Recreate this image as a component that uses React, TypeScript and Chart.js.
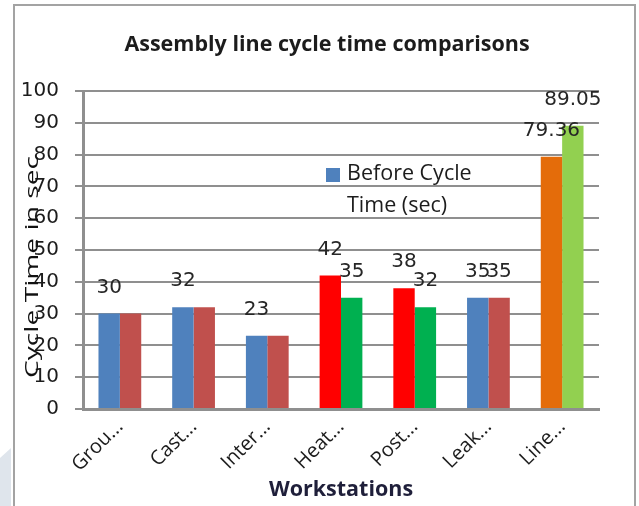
import { useEffect, useRef } from "react";
import { Chart, registerables } from "chart.js";

Chart.register(...registerables);

const chartTitle = "Assembly line cycle time comparisons";
const xTitle = "Workstations";
const yTitle = "Cycle Time in sec";
const legendLines = ["Before Cycle", "Time (sec)"];

const categories = ["Grou...", "Cast...", "Inter...", "Heat...", "Post...", "Leak...", "Line..."];
const beforeValues = [30, 32, 23, 42, 38, 35, 79.36];
const afterValues = [30, 32, 23, 35, 32, 35, 89.05];
const beforeLabels = ["30", "32", "23", "42", "38", "35", "79.36"];
const afterLabels = ["", "", "", "35", "32", "35", "89.05"];
const beforeColors = ["#4F81BD", "#4F81BD", "#4F81BD", "#FF0000", "#FF0000", "#4F81BD", "#E46C0A"];
const afterColors = ["#C0504D", "#C0504D", "#C0504D", "#00B050", "#00B050", "#C0504D", "#92D050"];
const yMin = 0;
const yMax = 100;
const yStep = 10;

const labelsByDataset = [beforeLabels, afterLabels];

const decorPlugin = {
  id: "decor",
  afterDraw(chart: any) {
    const ctx = chart.ctx as CanvasRenderingContext2D;
    const area = chart.chartArea;
    ctx.save();
    // frame
    ctx.strokeStyle = "#a3a3a3";
    ctx.lineWidth = 2;
    ctx.strokeRect(14, 5, 621, 530);
    // title
    ctx.fillStyle = "#1c1c1c";
    ctx.font = "bold 21.5px 'Open Sans'";
    ctx.textAlign = "center";
    ctx.textBaseline = "alphabetic";
    ctx.fillText(chartTitle, 327, 51);
    // data labels
    ctx.font = "20px 'DejaVu Sans'";
    ctx.fillStyle = "#262626";
    ctx.textBaseline = "middle";
    chart.data.datasets.forEach((_: any, di: number) => {
      const meta = chart.getDatasetMeta(di);
      meta.data.forEach((el: any, i: number) => {
        const t = labelsByDataset[di][i];
        if (!t) return;
        ctx.fillText(t, el.x, el.y - 26);
      });
    });
    // legend (single entry, wrapped)
    const lx = area.left + 243;
    const ly = area.top + 77;
    ctx.fillStyle = beforeColors[0];
    ctx.fillRect(lx, ly, 14, 14);
    ctx.fillStyle = "#1c1c1c";
    ctx.font = "21.5px 'Open Sans'";
    ctx.textAlign = "left";
    ctx.fillText(legendLines[0], lx + 21, ly + 6);
    ctx.fillText(legendLines[1], lx + 21, ly + 38);
    // y axis title (overlapping ticks, as in reference)
    ctx.save();
    ctx.translate(33, 267);
    ctx.rotate(-Math.PI / 2);
    ctx.font = "19px 'Open Sans'";
    const w = ctx.measureText(yTitle).width;
    ctx.scale(222 / w, 1);
    ctx.textAlign = "center";
    ctx.fillStyle = "#111";
    ctx.fillText(yTitle, 0, 0);
    ctx.restore();
    ctx.restore();
  },
};

export default function App() {
  const ref = useRef<HTMLCanvasElement>(null);
  useEffect(() => {
    if (!ref.current) return;
    const chart = new Chart(ref.current, {
      type: "bar",
      data: {
        labels: categories,
        datasets: [
          { label: "Before Cycle Time (sec)", data: beforeValues, backgroundColor: beforeColors },
          { label: "After Cycle Time (sec)", data: afterValues, backgroundColor: afterColors },
        ],
      },
      options: {
        responsive: false,
        animation: false,
        devicePixelRatio: 1,
        layout: { padding: { top: 91, right: 40, left: 0, bottom: 0 } },
        datasets: { bar: { categoryPercentage: 0.58, barPercentage: 1 } },
        plugins: { legend: { display: false }, title: { display: false }, tooltip: { enabled: false } },
        scales: {
          x: {
            afterFit: (s: any) => { s.height = 97; },
            grid: { display: false, drawTicks: false },
            border: { display: true, color: "#8f8f8f", width: 3 },
            ticks: {
              minRotation: 45,
              maxRotation: 45,
              autoSkip: false,
              padding: 6,
              color: "#1c1c1c",
              font: { family: "'Open Sans'", size: 20 },
            },
            title: {
              display: true,
              text: xTitle,
              color: "#1f1f3a",
              font: { family: "'Open Sans'", size: 21.5, weight: "bold" },
              padding: { top: 0, bottom: 3 },
            },
          },
          y: {
            min: yMin,
            max: yMax,
            afterFit: (s: any) => { s.width = 83; },
            ticks: {
              stepSize: yStep,
              padding: 16,
              color: "#1c1c1c",
              font: { family: "'DejaVu Sans'", size: 20 },
            },
            grid: { color: "#8f8f8f", lineWidth: 2, tickLength: 8, drawTicks: true },
            border: { display: true, color: "#8f8f8f", width: 3 },
          },
        },
      },
      plugins: [decorPlugin],
    });
    return () => chart.destroy();
  }, []);
  return (
    <div style={{ position: "fixed", left: 0, top: 0, width: 639, height: 506, background: "#fff", overflow: "hidden" }}>
      <div
        style={{
          position: "absolute",
          left: 0,
          top: 448,
          width: 11,
          height: 58,
          background: "#dfe5ec",
          clipPath: "polygon(0 10px, 100% 0, 100% 100%, 0 100%)",
        }}
      />
      <canvas ref={ref} width={639} height={506} style={{ position: "absolute", left: 0, top: 0, width: 639, height: 506 }} />
    </div>
  );
}
